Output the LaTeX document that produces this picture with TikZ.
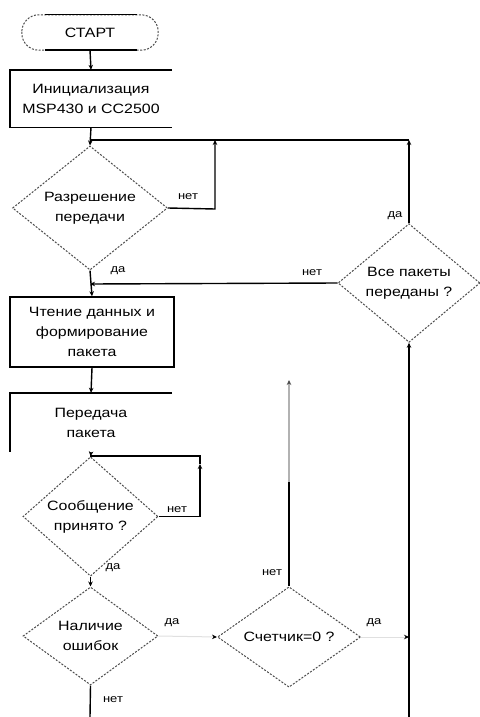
\documentclass[tikz,border=0pt]{standalone}
\usepackage{fontspec}
\setmainfont{Liberation Sans}[FakeStretch=1.18]
\usetikzlibrary{shapes.geometric,arrows.meta}
\begin{document}
\begin{tikzpicture}[x=1pt,y=-1pt,
  txt/.style={text=black,font=\fontsize{13.5}{20}\selectfont,align=center},
  lbl/.style={text=black,font=\fontsize{11}{13}\selectfont,inner sep=1pt},
  dia/.style={diamond,draw=black!70,dash pattern=on 2pt off 1.5pt,line width=1pt,inner sep=0pt,txt},
  boxx/.style={rectangle,draw=black,line width=1.4pt,inner sep=0pt,txt},
  bare/.style={rectangle,inner sep=0pt,txt},
  ln/.style={draw=black,line width=1.4pt},
  faint/.style={draw=black!12,line width=1pt},
  arr/.style={ln,-{Stealth[length=5pt,width=4.5pt]}},
  farr/.style={faint,-{Stealth[length=5pt,width=4.5pt,color=black]}}
]
\useasboundingbox[fill=white] (0,0) rectangle (479,717);

% start terminal
\node[bare,minimum width=136pt,minimum height=35pt] (start) at (90,32.5) {СТАРТ};
\draw[draw=black!70,dash pattern=on 2pt off 1.5pt,line width=1pt,rounded corners=17pt]
  (start.north west) rectangle (start.south east);
\draw[ln] ([xshift=23pt]start.north west) -- ([xshift=-21pt]start.north east);
\draw[ln] ([xshift=23pt]start.south west) -- ([xshift=-21pt]start.south east);

% init box (right side missing in the reference)
\node[bare,minimum width=162pt,minimum height=57pt] (init) at (91,98.5) {Инициализация\\MSP430 и CC2500};
\draw[ln] (init.north east) -- (init.north west) -- (init.south west) -- (init.south east);

% decision 1
\node[dia,minimum width=155pt,minimum height=111pt] (dec1) at (90,208) {Разрешение\\передачи};

% all sent decision
\node[dia,minimum width=142pt,minimum height=106pt] (alls) at (409,283) {Все пакеты\\переданы ?};

% box 2
\node[boxx,minimum width=164pt,minimum height=70pt] (rd) at (92,332) {Чтение данных и\\формирование\\пакета};

% box 3 (right and bottom missing)
\node[bare,minimum width=162pt,minimum height=59pt] (tx) at (91,422.5) {Передача\\пакета};
\draw[ln] (tx.north east) -- (tx.north west) -- (tx.south west);

% decision 2
\node[dia,minimum width=135pt,minimum height=97pt] (dec2) at (90.5,516.5) {Сообщение\\принято ?};

% decision 3
\node[dia,minimum width=135pt,minimum height=98pt] (dec3) at (90.5,636) {Наличие\\ошибок};

% counter decision
\node[dia,minimum width=143pt,minimum height=99pt] (cnt) at (289,637) {Счетчик=0 ?};

% coordinates
\coordinate (j1) at (90,140);
\coordinate (r1) at (215,140);
\coordinate (r1b) at (215,209);
\coordinate (a1) at (409,140);
\coordinate (j2) at (90,284);
\coordinate (j3) at (90,456);
\coordinate (r3) at (200,456);
\coordinate (r3a) at (200,464);
\coordinate (bot1) at (90,717);
\coordinate (bot2) at (409,717);
\coordinate (up) at (289,380);
\coordinate (mid) at (289,482);
\coordinate (m1) at (409,637);

% connectors
\draw[arr] (start.south) -- (init.north);
\draw[arr] (init.south) -- (dec1.north);
\draw[arr] (dec1.east) -- (r1b) -- (r1);
\draw[arr] (alls.north) -- (a1);
\draw[ln] (a1) -- (j1);
\draw[arr] (dec1.south) -- (rd.north);
\draw[arr] (alls.west) -- (j2);
\draw[arr] (rd.south) -- (tx.north);
\draw[arr] (tx.south) -- (dec2.north);
\draw[arr] (dec2.east) -| (r3a);
\draw[ln] (r3a) -- (r3) -- (j3);
\draw[arr] (dec2.south) -- (dec3.north);
\draw[ln] (dec3.south) -- (bot1);
\draw[farr] (dec3.east) -- (cnt.west);
\draw[ln] (cnt.north) -- (mid);
\draw[draw=black!30,line width=1.2pt,-{Stealth[length=5pt,width=4.5pt,color=black!70]}] (mid) -- (up);
\draw[farr] (cnt.east) -- (m1);
\draw[arr] (bot2) -- (alls.south);

% labels
\node[lbl] (l1) at (188,197) {нет};
\node[lbl] (l2) at (118,271) {да};
\node[lbl] (l3) at (312,273) {нет};
\node[lbl] (l4) at (395,216) {да};
\node[lbl] (l5) at (177,510) {нет};
\node[lbl] (l6) at (113,568) {да};
\node[lbl] (l7) at (172,623) {да};
\node[lbl] (l8) at (113,700) {нет};
\node[lbl] (l9) at (272,573) {нет};
\node[lbl] (l10) at (374,623) {да};
\end{tikzpicture}
\end{document}
